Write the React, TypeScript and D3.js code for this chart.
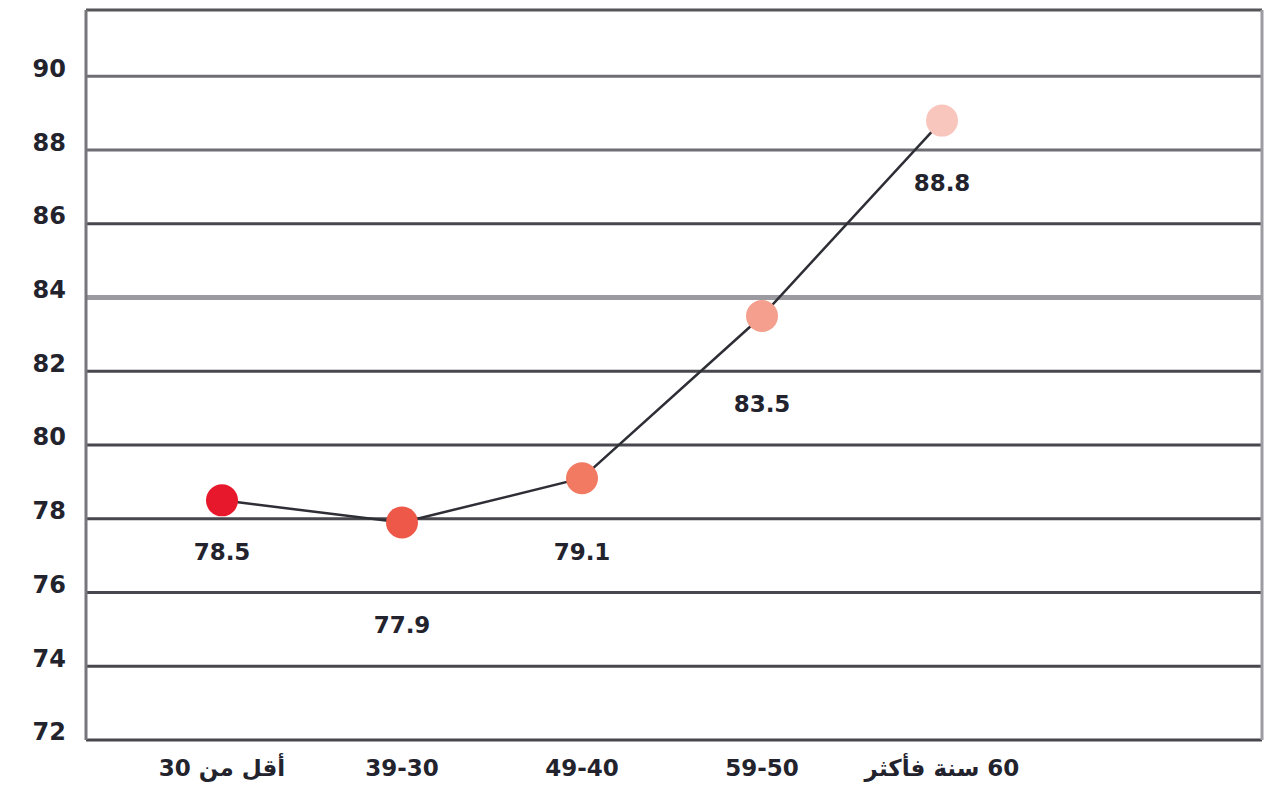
import React, { useEffect, useRef } from 'react';
import * as d3 from 'd3';

const ageGroups = ['أقل من 30', '39-30', '49-40', '59-50', '60 سنة فأكثر'];
const scores = [78.5, 77.9, 79.1, 83.5, 88.8];
const dotColors = ['#e8182c', '#ee5848', '#f27a62', '#f5a08e', '#f9c6be'];
const yTicks = [72, 74, 76, 78, 80, 82, 84, 86, 88, 90];

const W = 1271;
const H = 787;

const App: React.FC = () => {
  const ref = useRef<SVGSVGElement>(null);

  useEffect(() => {
    const svg = d3.select(ref.current);
    svg.selectAll('*').remove();

    const left = 86;
    const right = 1262;
    const top = 10;
    const bottom = 740;

    const x = d3.scalePoint<string>()
      .domain(ageGroups)
      .range([222, 942]);

    const y = d3.scaleLinear()
      .domain([72, 91.8])
      .range([bottom, top]);

    const font = '"DejaVu Sans", sans-serif';
    const ink = '#23232e';

    svg.append('rect')
      .attr('width', W)
      .attr('height', H)
      .attr('fill', '#ffffff');

    // grid lines
    const grid = svg.append('g');
    grid.selectAll('line')
      .data(yTicks)
      .join('line')
      .attr('x1', left)
      .attr('x2', right)
      .attr('y1', (d) => y(d))
      .attr('y2', (d) => y(d))
      .attr('stroke', (d) => (d === 84 ? '#9a9aa0' : d >= 88 ? '#6e6e74' : '#47474d'))
      .attr('stroke-width', (d) => (d === 84 ? 5 : 3));

    grid.append('line')
      .attr('x1', left)
      .attr('x2', right)
      .attr('y1', top)
      .attr('y2', top)
      .attr('stroke', '#55555a')
      .attr('stroke-width', 3);

    // frame sides
    svg.append('line')
      .attr('x1', left)
      .attr('x2', left)
      .attr('y1', top)
      .attr('y2', bottom)
      .attr('stroke', '#76767c')
      .attr('stroke-width', 3);
    svg.append('line')
      .attr('x1', right)
      .attr('x2', right)
      .attr('y1', top)
      .attr('y2', bottom)
      .attr('stroke', '#9c9ca2')
      .attr('stroke-width', 3);

    // y tick labels
    svg.append('g')
      .selectAll('text')
      .data(yTicks)
      .join('text')
      .attr('x', 66)
      .attr('y', (d) => y(d) - 8)
      .attr('dy', '0.35em')
      .attr('text-anchor', 'end')
      .attr('font-family', font)
      .attr('font-weight', 'bold')
      .attr('font-size', 24)
      .attr('fill', ink)
      .text((d) => d);

    // category labels
    svg.append('g')
      .selectAll('text')
      .data(ageGroups)
      .join('text')
      .attr('x', (d) => x(d) as number)
      .attr('y', 768)
      .attr('dy', '0.35em')
      .attr('text-anchor', 'middle')
      .attr('direction', 'rtl')
      .attr('font-family', font)
      .attr('font-weight', 'bold')
      .attr('font-size', 23)
      .attr('fill', ink)
      .text((d) => d);

    const pts = ageGroups.map((g, i) => ({ g, v: scores[i], c: dotColors[i] }));

    const line = d3.line<{ g: string; v: number }>()
      .x((d) => x(d.g) as number)
      .y((d) => y(d.v));

    svg.append('path')
      .datum(pts)
      .attr('d', line)
      .attr('fill', 'none')
      .attr('stroke', '#2e2e36')
      .attr('stroke-width', 2.5);

    svg.append('g')
      .selectAll('circle')
      .data(pts)
      .join('circle')
      .attr('cx', (d) => x(d.g) as number)
      .attr('cy', (d) => y(d.v))
      .attr('r', 16)
      .attr('fill', (d) => d.c);

    // value labels sit in the middle of the grid band below the dot's band
    svg.append('g')
      .selectAll('text')
      .data(pts)
      .join('text')
      .attr('x', (d) => x(d.g) as number)
      .attr('y', (d) => y(Math.floor(d.v / 2) * 2 - 1) - 4)
      .attr('dy', '0.35em')
      .attr('text-anchor', 'middle')
      .attr('font-family', font)
      .attr('font-weight', 'bold')
      .attr('font-size', 23)
      .attr('fill', ink)
      .text((d) => d.v.toFixed(1));
  }, []);

  return (
    <svg
      ref={ref}
      width={W}
      height={H}
      style={{ position: 'absolute', left: 0, top: 0, display: 'block' }}
    />
  );
};

export default App;
